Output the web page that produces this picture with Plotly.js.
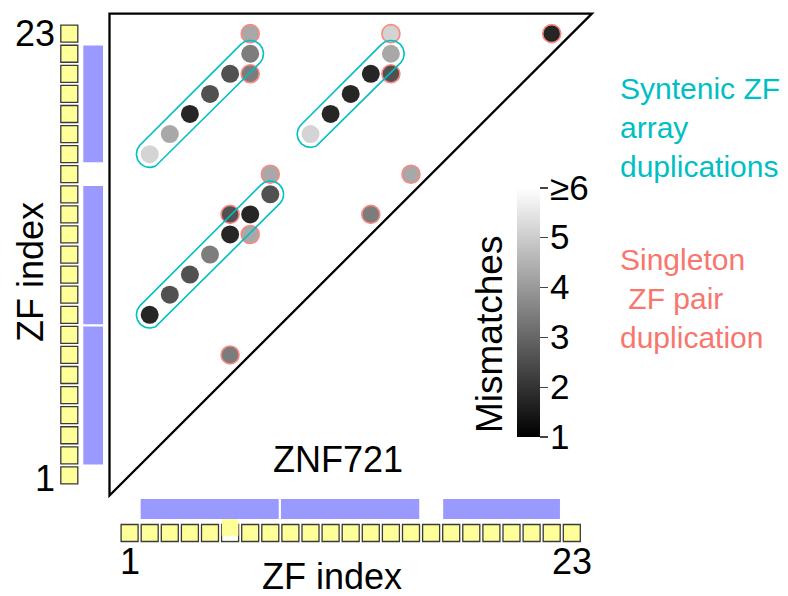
<!DOCTYPE html>
<html>
<head>
<meta charset="utf-8">
<script src="https://cdn.plot.ly/plotly-3.0.1.min.js"></script>
<style>
  html, body { margin: 0; padding: 0; background: #fff; }
  #chart { width: 788px; height: 596px; }
</style>
</head>
<body>
<div id="chart"></div>
<script>
// ZNF721 zinc-finger self-comparison: each dot is a pair of ZF indices,
// shaded by the number of mismatches between the two fingers.
const zfIndex = Array.from({length: 23}, (_, k) => k + 1);
const axisTickVals = [1, 23];
const axisTickText = ['1', '23'];

// ZF pairs that belong to syntenic array duplications
const arrayPairX = [2, 3, 4, 5, 6, 7, 10, 11, 12, 13, 14, 2, 3, 4, 5, 6, 7, 8];
const arrayPairY = [17, 18, 19, 20, 21, 22, 18, 19, 20, 21, 22, 9, 10, 11, 12, 13, 14, 15];
const arrayMismatch = [5, 4, 1, 2, 2, 3, 5, 1, 1, 1, 4, 1, 2, 2, 3, 1, 1, 2];

// Extent of each duplicated array (first and last pair)
const arrayStartX = [2, 10, 2];
const arrayStartY = [17, 18, 9];
const arrayEndX = [7, 14, 8];
const arrayEndY = [22, 22, 15];

// Singleton ZF pair duplications
const singlePairX = [7, 7, 14, 14, 22, 15, 8, 6, 7, 13, 6];
const singlePairY = [23, 21, 23, 21, 23, 16, 16, 14, 13, 14, 7];
const singleMismatch = [4, 3, 5, 2, 1, 4, 4, 2, 4, 3, 3];

// Repeat units along the ZF array (start / end in ZF index units)
const unitStart = [1.55, 8.53, 16.6];
const unitEnd = [8.42, 15.41, 22.41];

// Mismatch colour bar
const mismatchMin = 1, mismatchMax = 6;
const mismatchTickVals = [1, 2, 3, 4, 5, 6];
const mismatchTickText = ['1', '2', '3', '4', '5', '≥6'];

// ---- layout geometry --------------------------------------------------
const W = 788, H = 596;
const PX_X = 20.1, PX_Y = 20.08;      // pixels per ZF index
const ORIGIN_X = 109.5, ORIGIN_Y = 495.5; // pixel position of index 0
const xRange = [-ORIGIN_X / PX_X, (W - ORIGIN_X) / PX_X];
const yRange = [(ORIGIN_Y - H) / PX_Y, ORIGIN_Y / PX_Y];
const toX = p => (p - ORIGIN_X) / PX_X;   // pixel -> data helpers
const toY = p => (ORIGIN_Y - p) / PX_Y;

const FONT = 'Liberation Sans, Arial, Helvetica, sans-serif';
const TEAL = '#00BFC4';
const SALMON = '#F8766D';
const YELLOW = '#ffff99';
const BLUE = '#9999ff';
const nLen = zfIndex.length;

// colour bar placement (pixels)
const CB_LEFT = 517, CB_TOP = 188, CB_BOTTOM = 437, CB_THICK = 23;

const grayScale = [[0, '#000000'], [1, '#ffffff']];

// ZF boxes along the left and bottom edges
const leftBoxes = {
  type: 'scatter', mode: 'markers', hoverinfo: 'skip', showlegend: false,
  x: zfIndex.map(() => toX(69.3)), y: zfIndex,
  marker: {symbol: 'square', size: 17, color: YELLOW, line: {color: '#3a3a3a', width: 1.3}}
};
const bottomBoxes = {
  type: 'scatter', mode: 'markers', hoverinfo: 'skip', showlegend: false,
  x: zfIndex, y: zfIndex.map(() => toY(533)),
  marker: {symbol: 'square', size: 17, color: YELLOW, line: {color: '#3a3a3a', width: 1.3}}
};

// Pair dots
const arrayDots = {
  type: 'scatter', mode: 'markers', hoverinfo: 'skip', showlegend: false,
  x: arrayPairX, y: arrayPairY,
  marker: {
    size: 18, color: arrayMismatch, cmin: mismatchMin, cmax: mismatchMax, colorscale: grayScale,
    opacity: 0.85, line: {width: 0},
    showscale: true,
    colorbar: {
      x: CB_LEFT / W, xanchor: 'left', xpad: 0,
      y: 1 - (CB_TOP + CB_BOTTOM) / 2 / H, yanchor: 'middle', ypad: 0,
      len: CB_BOTTOM - CB_TOP, lenmode: 'pixels', thickness: CB_THICK, thicknessmode: 'pixels',
      outlinewidth: 0,
      tickmode: 'array', tickvals: mismatchTickVals, ticktext: mismatchTickVals.map(() => ''),
      ticks: 'outside', ticklen: 8, tickwidth: 1.2, tickcolor: '#444'
    }
  }
};
const singleDots = {
  type: 'scatter', mode: 'markers', hoverinfo: 'skip', showlegend: false,
  x: singlePairX, y: singlePairY,
  marker: {
    size: 18, color: singleMismatch, cmin: mismatchMin, cmax: mismatchMax, colorscale: grayScale,
    opacity: 0.85, showscale: false,
    line: {color: SALMON, width: 1.6}
  }
};

// Capsule outline around each duplicated array
function capsule(x1, y1, x2, y2, r) {
  const xs = [], ys = [];
  const base = Math.atan2(y2 - y1, x2 - x1);
  const N = 40;
  for (let k = 0; k <= N; k++) {
    const a = base + Math.PI / 2 - Math.PI * k / N;
    xs.push(x2 + r * Math.cos(a)); ys.push(y2 + r * Math.sin(a));
  }
  for (let k = 0; k <= N; k++) {
    const a = base - Math.PI / 2 - Math.PI * k / N;
    xs.push(x1 + r * Math.cos(a)); ys.push(y1 + r * Math.sin(a));
  }
  xs.push(xs[0]); ys.push(ys[0]);
  return {xs, ys};
}
const capsuleTraces = arrayStartX.map((sx, g) => {
  const c = capsule(sx, arrayStartY[g], arrayEndX[g], arrayEndY[g], 0.66);
  return {
    type: 'scatter', mode: 'lines', hoverinfo: 'skip', showlegend: false,
    x: c.xs, y: c.ys, line: {color: TEAL, width: 1.6}
  };
});

// Shapes: triangle frame and repeat-unit bars
const shapes = [];
shapes.push({
  type: 'path', xref: 'x', yref: 'y', layer: 'above',
  path: `M0,${nLen + 1} L${nLen + 1},${nLen + 1} L0,0 Z`,
  line: {color: '#000', width: 2.3}
});
unitStart.forEach((s, k) => {
  shapes.push({type: 'rect', xref: 'x', yref: 'y', layer: 'below',
    x0: s, x1: unitEnd[k], y0: toY(499), y1: toY(519),
    fillcolor: BLUE, line: {width: 0}});
  shapes.push({type: 'rect', xref: 'x', yref: 'y', layer: 'below',
    x0: toX(83.3), x1: toX(103), y0: s, y1: unitEnd[k],
    fillcolor: BLUE, line: {width: 0}});
});
// ZF 6 box on the bottom row is drawn raised
shapes.push({type: 'rect', xref: 'x', yref: 'y', layer: 'above',
  x0: 6 - 7.5 / PX_X, x1: 6 + 7.5 / PX_X, y0: toY(540.5), y1: toY(535.7),
  fillcolor: '#ffffff', line: {width: 0}});
shapes.push({type: 'rect', xref: 'x', yref: 'y', layer: 'above',
  x0: 6 - 8.3 / PX_X, x1: 6 + 8.3 / PX_X, y0: toY(535.7), y1: toY(519),
  fillcolor: YELLOW, line: {width: 0}});

// Text
const ann = [];
const txt = (text, x, y, opts) => Object.assign({
  text, x, y, xref: 'x', yref: 'y', showarrow: false,
  font: {family: FONT, size: 36, color: '#000'}
}, opts || {});
axisTickVals.forEach((v, k) => {
  ann.push(txt(axisTickText[k], v, toY(561)));
  ann.push(txt(axisTickText[k], toX(57), v + (k === 0 ? -0.15 : 0), {xanchor: 'right'}));
});
// colour bar labels, placed at their mismatch values along the bar
mismatchTickVals.forEach((v, k) => {
  const py = CB_BOTTOM - (v - mismatchMin) / (mismatchMax - mismatchMin) * (CB_BOTTOM - CB_TOP);
  ann.push(txt(mismatchTickText[k], toX(CB_LEFT + CB_THICK + 8), toY(py - 1),
    {xanchor: 'left', font: {family: FONT, size: 35, color: '#000'}}));
});
ann.push(txt('ZF index', toX(332), toY(576)));
ann.push(txt('ZF index', toX(30), toY(272), {textangle: -90}));
ann.push(txt('ZNF721', toX(338), toY(459)));
ann.push(txt('Mismatches', toX(489), toY(335), {textangle: -90, font: {family: FONT, size: 37, color: '#000'}}));
ann.push(txt('Syntenic ZF<br>array<br>duplications', toX(618), toY(127),
  {xanchor: 'left', align: 'left', font: {family: FONT, size: 30, color: TEAL}}));
ann.push(txt('Singleton<br> ZF pair<br>duplication', toX(618), toY(298),
  {xanchor: 'left', align: 'left', font: {family: FONT, size: 30, color: SALMON}}));

const hidden = {visible: false, showgrid: false, zeroline: false, fixedrange: true};
const layout = {
  width: W, height: H,
  font: {family: FONT, size: 30, color: '#000'},
  margin: {l: 0, r: 0, t: 0, b: 0, pad: 0, autoexpand: false},
  paper_bgcolor: '#fff', plot_bgcolor: '#fff',
  showlegend: false,
  xaxis: Object.assign({range: xRange}, hidden),
  yaxis: Object.assign({range: yRange}, hidden),
  shapes, annotations: ann
};

Plotly.newPlot('chart',
  [leftBoxes, bottomBoxes, arrayDots, singleDots, ...capsuleTraces],
  layout, {staticPlot: true, displayModeBar: false});
</script>
</body>
</html>
